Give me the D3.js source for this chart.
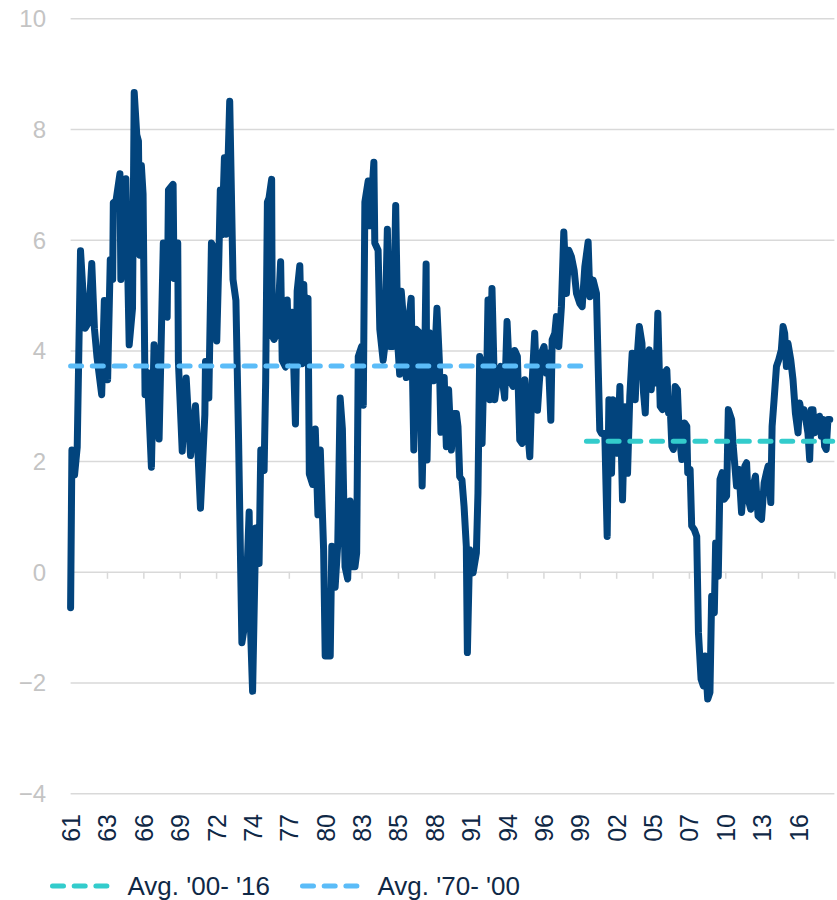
<!DOCTYPE html>
<html>
<head>
<meta charset="utf-8">
<script src="https://cdn.jsdelivr.net/npm/d3@7"></script>
<style>
  body { margin: 0; background: #fff; }
  svg text { font-family: "Liberation Sans", Arial, sans-serif; }
</style>
</head>
<body>
<svg id="chart" width="837" height="900"></svg>
<script>
const dates = [
  1961.0, 1961.1, 1961.3, 1961.5, 1961.75, 1962.1, 1962.35, 1962.6, 1962.8, 1963.0,
  1963.35, 1963.55, 1963.8, 1964.0, 1964.18, 1964.23, 1964.43, 1964.73, 1964.8, 1965.0,
  1965.18, 1965.43, 1965.68, 1965.81, 1966.0, 1966.13, 1966.23, 1966.35, 1966.48, 1966.63,
  1966.8, 1967.11, 1967.31, 1967.5, 1967.69, 1968.01, 1968.3, 1968.4, 1968.75, 1968.82,
  1969.1, 1969.15, 1969.44, 1969.74, 1970.07, 1970.44, 1970.6, 1970.82, 1971.15, 1971.2,
  1971.45, 1971.65, 1971.95, 1972.05, 1972.2, 1972.32, 1972.45, 1972.63, 1972.75, 1973.03,
  1973.28, 1973.5, 1973.7, 1973.95, 1974.2, 1974.5, 1974.6, 1974.76, 1975.0, 1975.25,
  1975.38, 1975.63, 1975.75, 1975.88, 1976.0, 1976.2, 1976.25, 1976.38, 1976.63, 1976.88,
  1977.0, 1977.25, 1977.38, 1977.5, 1977.75, 1978.0, 1978.13, 1978.33, 1978.5, 1978.63,
  1978.75, 1978.95, 1979.05, 1979.3, 1979.5, 1979.7, 1979.88, 1980.13, 1980.25, 1980.63,
  1980.75, 1981.0, 1981.2, 1981.38, 1981.55, 1981.75, 1981.95, 1982.13, 1982.25, 1982.5,
  1982.63, 1982.75, 1983.0, 1983.13, 1983.25, 1983.5, 1983.63, 1983.93, 1984.0, 1984.25,
  1984.38, 1984.63, 1984.75, 1984.95, 1985.13, 1985.38, 1985.58, 1985.75, 1985.88, 1986.0,
  1986.25, 1986.38, 1986.5, 1986.75, 1986.95, 1987.13, 1987.38, 1987.58, 1987.75, 1987.88,
  1987.95, 1988.13, 1988.45, 1988.7, 1988.88, 1989.0, 1989.25, 1989.41, 1989.58, 1989.79,
  1989.99, 1990.17, 1990.29, 1990.42, 1990.59, 1990.75, 1990.92, 1991.0, 1991.17, 1991.43,
  1991.68, 1991.8, 1991.93, 1992.11, 1992.26, 1992.44, 1992.56, 1992.69, 1992.86, 1993.07,
  1993.32, 1993.52, 1993.82, 1994.0, 1994.2, 1994.45, 1994.58, 1994.78, 1994.96, 1995.14,
  1995.34, 1995.54, 1995.72, 1995.89, 1996.09, 1996.3, 1996.42, 1996.6, 1996.8, 1996.98,
  1997.1, 1997.31, 1997.41, 1997.61, 1997.73, 1997.91, 1998.11, 1998.29, 1998.49, 1998.67,
  1998.87, 1999.07, 1999.25, 1999.5, 1999.68, 1999.88, 2000.13, 2000.26, 2000.51, 2000.76,
  2000.89, 2001.01, 2001.14, 2001.39, 2001.57, 2001.7, 2001.9, 2002.02, 2002.2, 2002.35,
  2002.53, 2002.73, 2002.91, 2003.11, 2003.28, 2003.46, 2003.69, 2003.82, 2004.0, 2004.2,
  2004.32, 2004.45, 2004.57, 2004.75, 2004.9, 2005.08, 2005.25, 2005.4, 2005.58, 2005.75,
  2005.9, 2006.08, 2006.21, 2006.33, 2006.46, 2006.58, 2006.71, 2006.88, 2007.01, 2007.21,
  2007.41, 2007.59, 2007.66, 2007.84, 2007.96, 2008.16, 2008.34, 2008.47, 2008.67, 2008.84,
  2008.97, 2009.17, 2009.34, 2009.47, 2009.67, 2009.77, 2009.97, 2010.1, 2010.27, 2010.42,
  2010.6, 2010.73, 2010.98, 2011.1, 2011.35, 2011.53, 2011.73, 2011.98, 2012.11, 2012.23,
  2012.43, 2012.61, 2012.78, 2012.98, 2013.24, 2013.44, 2013.61, 2013.74, 2013.94, 2014.04,
  2014.19, 2014.37, 2014.54, 2014.74, 2014.87, 2014.99, 2015.12, 2015.24, 2015.45, 2015.62,
  2015.8, 2016.0, 2016.12, 2016.3, 2016.45, 2016.63, 2016.75, 2016.88, 2017.0, 2017.13,
  2017.25, 2017.45, 2017.63, 2017.76, 2017.88, 2018.01, 2018.13, 2018.26, 2018.4,
];
const values = [
  -0.65, 2.2, 1.75, 2.25, 5.8, 4.4, 4.5, 5.57, 4.4, 3.87,
  3.2, 4.9, 3.47, 5.64, 5.28, 6.67, 6.7, 7.19, 5.28, 6.0,
  7.1, 4.1, 4.76, 8.66, 7.9, 7.78, 5.72, 7.34, 6.82, 3.2,
  3.6, 1.89, 4.1, 3.3, 2.4, 5.94, 4.6, 6.9, 7.0, 5.3,
  5.94, 3.8, 2.18, 3.5, 2.1, 3.0, 2.3, 1.15, 2.84, 3.8,
  3.14, 5.94, 5.8, 4.17, 5.57, 6.9, 6.09, 7.48, 6.1, 8.5,
  5.28, 4.9, 2.4, -1.28, -0.9, 1.08, -1.0, -2.16, 0.79, 0.15,
  2.2, 1.83, 3.45, 6.68, 6.75, 7.09, 4.26, 4.2, 4.32, 5.6,
  3.82, 3.7, 4.91, 3.82, 4.69, 2.67, 5.07, 5.53, 3.76, 5.19,
  4.07, 4.94, 1.77, 1.58, 2.58, 1.03, 2.2, 0.4, -1.52, -1.52,
  0.46, -0.28, 0.5, 3.14, 2.58, 0.09, -0.13, 1.28, 0.09, 0.09,
  0.34, 3.89, 4.07, 3.01, 6.68, 7.06, 6.25, 7.4, 5.94, 5.81,
  4.38, 3.82, 4.07, 6.19, 4.07, 4.07, 6.62, 4.07, 3.57, 5.07,
  4.32, 3.51, 4.38, 4.94, 2.2, 4.38, 4.32, 1.55, 3.45, 5.56,
  2.02, 4.32, 3.45, 4.76, 3.82, 2.52, 3.51, 2.26, 3.29, 2.2,
  2.86, 2.86, 2.62, 1.72, 1.66, 1.18, 0.46, -1.46, 0.4, -0.02,
  0.34, 1.42, 3.89, 2.32, 3.83, 3.23, 4.91, 3.11, 5.12, 3.11,
  3.59, 3.71, 3.14, 4.52, 3.47, 3.35, 4.0, 3.89, 2.38, 2.32,
  3.47, 2.62, 2.08, 3.41, 4.31, 2.92, 3.35, 3.95, 4.07, 3.59,
  3.95, 2.74, 4.19, 4.31, 4.61, 4.07, 4.79, 6.14, 5.03, 5.81,
  5.69, 5.45, 5.03, 4.85, 4.79, 5.51, 5.96, 4.97, 5.27, 5.03,
  3.71, 2.56, 2.5, 2.5, 0.64, 3.11, 1.78, 3.11, 2.98, 2.14,
  3.35, 1.3, 2.98, 1.78, 3.17, 3.95, 3.11, 3.83, 4.43, 4.13,
  3.23, 2.87, 3.83, 4.01, 3.29, 3.95, 3.41, 4.67, 2.99, 2.93,
  3.59, 3.65, 2.87, 3.0, 2.27, 2.21, 3.35, 3.29, 2.51, 2.03,
  2.69, 2.63, 1.79, 1.85, 0.83, 0.76, 0.64, -1.1, -1.94, -2.06,
  -1.52, -2.3, -2.18, -0.44, -0.74, 0.52, -0.08, 1.67, 1.79, 1.31,
  1.37, 2.93, 2.75, 2.27, 1.55, 1.85, 1.07, 1.91, 1.97, 1.31,
  1.13, 1.55, 1.73, 1.01, 0.95, 1.61, 1.79, 1.91, 1.25, 2.63,
  3.11, 3.71, 3.83, 4.01, 4.43, 4.31, 3.71, 4.13, 3.83, 3.47,
  2.87, 2.51, 3.05, 2.81, 2.93, 2.69, 2.51, 2.03, 2.93, 2.93,
  2.51, 2.63, 2.81, 2.45, 2.75, 2.27, 2.21, 2.75, 2.75,
];

// period averages (dashed reference lines)
const avgLabels = ["Avg. '00- '16", "Avg. '70- '00"];
const avgValues = [2.36, 3.72];
const avgFrom = [2000.0, 1961.0];
const avgTo = [2018.62, 2000.0];

// category axis: one label every 33 months starting Jan 1961
const xTickLabels = ["61", "63", "66", "69", "72", "74", "77", "80", "83", "85", "88",
  "91", "94", "96", "99", "02", "05", "07", "10", "13", "16"];
const yTicks = [-4, -2, 0, 2, 4, 6, 8, 10];

const startYear = 1961;
const tickStep = 33 / 12;
const tickCount = 21;

const avgColors = ["#33cccc", "#5bbcf8"];
const lineColor = "#02447d";
const gridColor = "#d9d9d9";
const textColor = "#0f2846";

const svg = d3.select("#chart");
const plotLeft = 70.6;
const plotRight = 834.4;

const x = d3.scaleLinear()
  .domain([startYear, startYear + tickStep * tickCount])
  .range([plotLeft, plotRight]);
const y = d3.scaleLinear().domain([-4, 10]).range([793.2, 18.3]);

// horizontal gridlines
const grid = svg.append("g")
  .attr("transform", `translate(${plotLeft},0)`)
  .call(d3.axisLeft(y).tickValues(yTicks).tickSize(-(plotRight - plotLeft)).tickFormat(""));
grid.select(".domain").remove();
grid.selectAll("line").attr("stroke", gridColor).attr("stroke-width", 1.5);

// y labels
const yAxis = svg.append("g")
  .attr("transform", "translate(46,0)")
  .call(d3.axisLeft(y).tickValues(yTicks).tickSize(0).tickPadding(0));
yAxis.select(".domain").remove();
yAxis.selectAll("text")
  .attr("font-size", 24)
  .attr("fill", "#c4c4c4")
  .attr("dy", "0.35em");

// small tick marks on the zero line
const tickDates = d3.range(tickCount + 1).map((i) => startYear + i * tickStep);
const ticks = svg.append("g")
  .attr("transform", `translate(0,${y(0)})`)
  .call(d3.axisBottom(x).tickValues(tickDates).tickSize(7).tickFormat(""));
ticks.select(".domain").remove();
ticks.selectAll("line").attr("stroke", gridColor).attr("stroke-width", 1.5);

// rotated year labels
const xAxis = svg.append("g")
  .attr("transform", "translate(0,814)")
  .call(d3.axisBottom(x)
    .tickValues(tickDates.slice(0, xTickLabels.length))
    .tickSize(0)
    .tickFormat((d, i) => xTickLabels[i]));
xAxis.select(".domain").remove();
xAxis.selectAll("text")
  .attr("x", 0)
  .attr("y", 0)
  .attr("dy", "0.36em")
  .attr("transform", "rotate(-90)")
  .attr("text-anchor", "end")
  .attr("font-size", 25)
  .attr("fill", textColor);

// main series
const series = dates.map((d, i) => ({ date: d, value: values[i] }));
const line = d3.line().x((d) => x(d.date)).y((d) => y(d.value));
svg.append("path")
  .datum(series)
  .attr("fill", "none")
  .attr("stroke", lineColor)
  .attr("stroke-width", 7)
  .attr("stroke-linejoin", "round")
  .attr("stroke-linecap", "round")
  .attr("d", line);

// average lines, drawn over the series
avgValues.forEach((v, i) => {
  svg.append("path")
    .datum([{ date: avgFrom[i], value: v }, { date: avgTo[i], value: v }])
    .attr("fill", "none")
    .attr("stroke", avgColors[i])
    .attr("stroke-width", 5)
    .attr("stroke-linecap", "round")
    .attr("stroke-dasharray", "11 10.7")
    .attr("d", line);
});

// legend
const legendX = [52.5, 302.5];
const legend = svg.append("g").selectAll("g")
  .data(avgLabels)
  .join("g")
  .attr("transform", (d, i) => `translate(${legendX[i]},886)`);
legend.append("line")
  .attr("x1", 0)
  .attr("x2", 65)
  .attr("stroke", (d, i) => avgColors[i])
  .attr("stroke-width", 5)
  .attr("stroke-linecap", "round")
  .attr("stroke-dasharray", "11 10.7");
legend.append("text")
  .attr("x", 75)
  .attr("y", 9)
  .attr("font-size", 26)
  .attr("fill", textColor)
  .text((d) => d);
</script>
</body>
</html>
